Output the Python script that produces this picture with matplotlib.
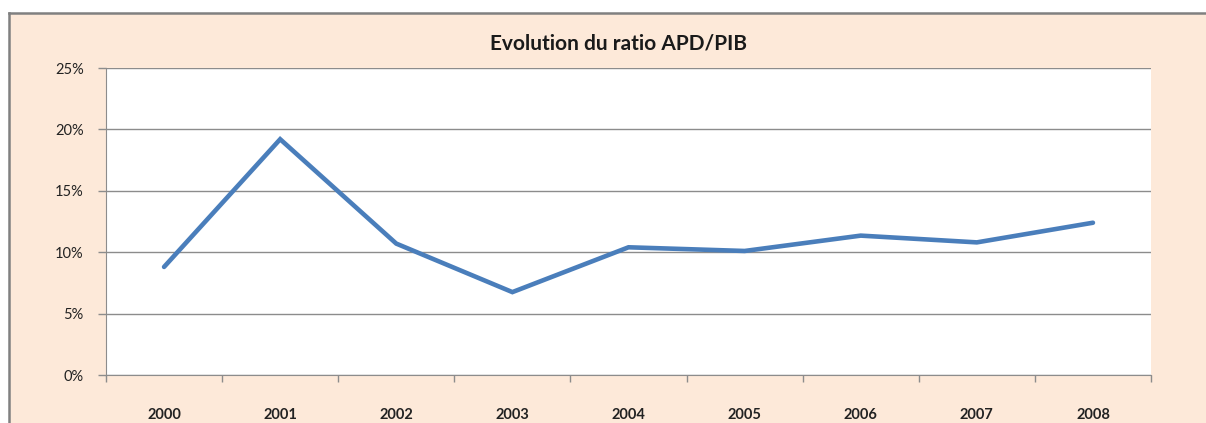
import matplotlib.pyplot as plt
from matplotlib.patches import Rectangle
from matplotlib.ticker import FuncFormatter, FixedLocator

years = ["2000", "2001", "2002", "2003", "2004", "2005", "2006", "2007", "2008"]
ratio = [8.8, 19.2, 10.7, 6.75, 10.4, 10.1, 11.35, 10.8, 12.4]
y_ticks = [0, 5, 10, 15, 20, 25]

PEACH = "#fde9d9"
BLUE = "#4a7ebb"
GRID = "#8c8c8c"

plt.rcParams["font.family"] = ["Lato", "DejaVu Sans"]

fig = plt.figure(figsize=(12.06, 4.23), dpi=100)
fig.patch.set_facecolor("white")

# chart area background with grey border on top/left
W, H = 1206, 423
bg = Rectangle((9 / W, 0), 1 - 9 / W, (H - 13) / H, transform=fig.transFigure,
               facecolor=PEACH, edgecolor="none", zorder=-5)
fig.add_artist(bg)
fig.add_artist(plt.Line2D([9 / W, 9 / W], [0, (H - 13) / H], transform=fig.transFigure,
                          color="#808080", lw=1.8, zorder=-4))
fig.add_artist(plt.Line2D([9 / W, 1], [(H - 13) / H, (H - 13) / H], transform=fig.transFigure,
                          color="#808080", lw=1.8, zorder=-4))

ax = fig.add_axes([106 / W, (H - 375) / H, (1151 - 106) / W, (375 - 68) / H])
ax.set_facecolor("white")

x = range(len(years))
ax.plot(x, ratio, color=BLUE, lw=3.3, solid_joinstyle="miter",
        solid_capstyle="round", zorder=3)

ax.set_xlim(-0.5, len(years) - 0.5)
ax.set_ylim(0, 25)
ax.set_yticks(y_ticks)
ax.yaxis.set_major_formatter(FuncFormatter(lambda v, _: f"{v:.0f}%"))
ax.grid(axis="y", color=GRID, lw=1)
ax.set_axisbelow(True)

ax.set_xticks([i for i in x])
ax.set_xticklabels(years, fontsize=10.5, fontweight="bold", color="#222222")
ax.tick_params(axis="x", length=0, pad=24)
ax.xaxis.set_minor_locator(FixedLocator([i - 0.5 for i in range(len(years) + 1)]))
ax.tick_params(axis="x", which="minor", length=5, color=GRID, width=1)
ax.tick_params(axis="y", length=6, color=GRID, width=1, pad=10, labelsize=10.5,
               labelcolor="#222222")

for side in ["top", "right"]:
    ax.spines[side].set_visible(False)
ax.spines["left"].set_color(GRID)
ax.spines["bottom"].set_color(GRID)

fig.text(618 / W, (H - 43) / H, "Evolution du ratio APD/PIB",
         ha="center", va="center", fontsize=15, fontweight="bold", color="#1a1a1a")

fig.savefig("out.png", dpi=100)
